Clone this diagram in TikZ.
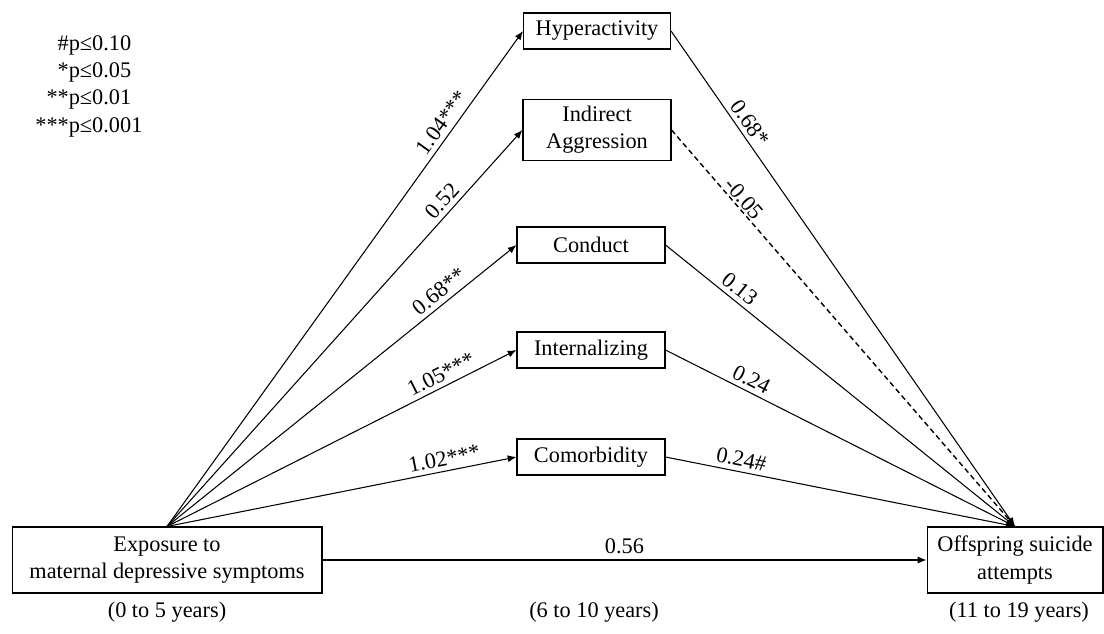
\documentclass[tikz,border=0pt]{standalone}
\usepackage{fontspec}
\setmainfont{Liberation Serif}
\usetikzlibrary{arrows.meta}

\begin{document}
\begin{tikzpicture}[x=0.02cm, y=-0.02cm, font=\fontsize{12.7}{15.5}\selectfont,
        box/.style={draw, line width=0.6pt, align=center, inner sep=2pt},
        link/.style={line width=0.6pt, -{Latex[length=5pt,width=4pt]}},
        coef/.style={sloped, above, inner sep=2.5pt}]
        \useasboundingbox (0,0) rectangle (1104,634);

        \node[box, minimum width=6.2cm, minimum height=1.32cm] (expo) at (167,560) {Exposure to\\maternal depressive symptoms};
        \node[box, minimum width=3.52cm, minimum height=1.32cm] (out) at (1015,560) {Offspring suicide\\attempts};
        \node[box, minimum width=2.94cm, minimum height=0.72cm] (hyper) at (597,31) {Hyperactivity};
        \node[box, minimum width=2.96cm, minimum height=1.22cm] (indir) at (597,130) {Indirect\\Aggression};
        \node[box, minimum width=2.96cm, minimum height=0.72cm] (cond) at (591,245) {Conduct};
        \node[box, minimum width=2.96cm, minimum height=0.72cm] (intern) at (591,350) {Internalizing};
        \node[box, minimum width=2.96cm, minimum height=0.72cm] (comorb) at (591,457) {Comorbidity};

        \draw[link] (expo.north) -- (hyper.west) node[coef, pos=0.8]{1.04***};
        \draw[link] (expo.north) -- (indir.west) node[coef, pos=0.8]{0.52};
        \draw[link] (expo.north) -- (cond.west) node[coef, pos=0.8]{0.68**};
        \draw[link] (expo.north) -- (intern.west) node[coef, pos=0.8]{1.05***};
        \draw[link] (expo.north) -- (comorb.west) node[coef, pos=0.8]{1.02***};

        \draw[link] (hyper.east) -- (out.north) node[coef, pos=0.2]{0.68*};
        \draw[link, line width=0.8pt, dash pattern=on 3pt off 2pt] (indir.east) -- (out.north) node[coef, pos=0.19, inner sep=1pt]{-0.05};
        \draw[link] (cond.east) -- (out.north) node[coef, pos=0.19]{0.13};
        \draw[link] (intern.east) -- (out.north) node[coef, pos=0.23]{0.24};
        \draw[link] (comorb.east) -- (out.north) node[coef, pos=0.21]{0.24\#};

        \draw[link] (expo.east) -- (out.west) node[midway, above, inner sep=3pt]{0.56}; % Direct path.

        \node (ageA) at (167,612) {(0 to 5 years)};
        \node (ageB) at (594,612) {(6 to 10 years)};
        \node (ageC) at (1019,612) {(11 to 19 years)};

        \node[anchor=north west, inner sep=0pt] (legend) at (35,31) {\begin{tabular}{@{}r@{}l@{}}
            \#&p≤0.10\\ {*}&p≤0.05\\ {**}&p≤0.01\\ {***}&p≤0.001
        \end{tabular}};
    \end{tikzpicture}
\end{document}
